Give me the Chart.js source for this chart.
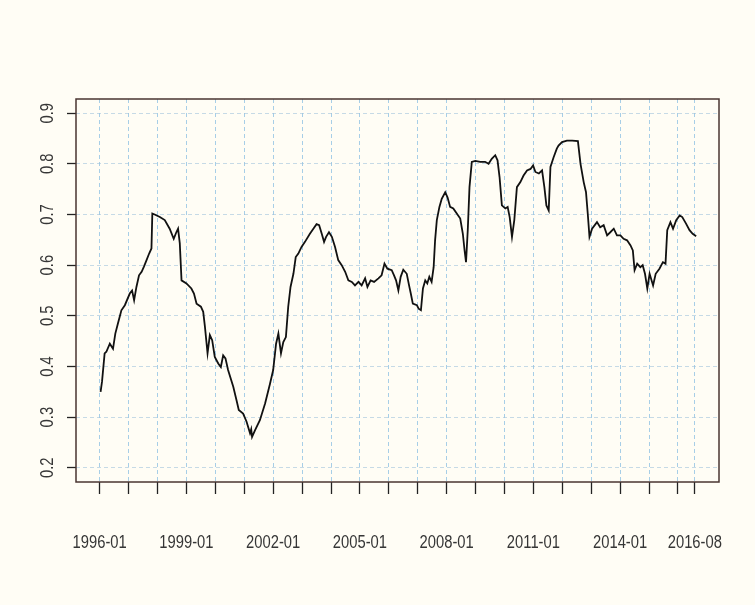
<!DOCTYPE html>
<html>
<head>
<meta charset="utf-8">
<script src="https://cdn.jsdelivr.net/npm/chart.js@4/dist/chart.umd.min.js"></script>
<style>
  html, body { margin: 0; padding: 0; background: #fffdf5; }
  canvas { display: block; }
</style>
</head>
<body>
<canvas id="chart" width="755" height="605"></canvas>
<script>
// decimal year of each reading, and the value
const dates = [
  1996.03, 1996.08, 1996.17, 1996.23, 1996.35, 1996.46, 1996.54, 1996.63, 1996.75, 1996.87,
  1997.04, 1997.12, 1997.19, 1997.27, 1997.36, 1997.45, 1997.53, 1997.62, 1997.71, 1997.79,
  1997.82, 1997.90, 1998.08, 1998.25, 1998.42, 1998.56, 1998.65, 1998.71, 1998.77, 1998.83,
  1999.00, 1999.17, 1999.26, 1999.35, 1999.50, 1999.58, 1999.64, 1999.73, 1999.81, 1999.89,
  1999.98, 2000.10, 2000.19, 2000.27, 2000.35, 2000.44, 2000.62, 2000.73, 2000.81, 2000.96,
  2001.08, 2001.20, 2001.24, 2001.27, 2001.37, 2001.54, 2001.72, 2001.89, 2002.00, 2002.10,
  2002.18, 2002.27, 2002.35, 2002.44, 2002.52, 2002.60, 2002.70, 2002.78, 2002.87, 2002.98,
  2003.10, 2003.27, 2003.39, 2003.50, 2003.59, 2003.68, 2003.76, 2003.83, 2003.93, 2004.03,
  2004.14, 2004.25, 2004.37, 2004.49, 2004.60, 2004.72, 2004.83, 2004.95, 2005.06, 2005.18,
  2005.26, 2005.37, 2005.49, 2005.64, 2005.75, 2005.85, 2005.95, 2006.10, 2006.18, 2006.25,
  2006.33, 2006.41, 2006.50, 2006.62, 2006.70, 2006.76, 2006.83, 2006.97, 2007.03, 2007.11,
  2007.18, 2007.26, 2007.33, 2007.40, 2007.48, 2007.55, 2007.60, 2007.66, 2007.75, 2007.83,
  2007.95, 2008.03, 2008.12, 2008.23, 2008.35, 2008.47, 2008.56, 2008.62, 2008.67, 2008.73,
  2008.79, 2008.87, 2008.99, 2009.16, 2009.33, 2009.45, 2009.56, 2009.68, 2009.76, 2009.83,
  2009.91, 2010.03, 2010.11, 2010.18, 2010.26, 2010.34, 2010.43, 2010.55, 2010.66, 2010.78,
  2010.90, 2010.99, 2011.07, 2011.19, 2011.30, 2011.38, 2011.45, 2011.53, 2011.59, 2011.70,
  2011.81, 2011.87, 2011.99, 2012.16, 2012.34, 2012.54, 2012.63, 2012.74, 2012.82, 2012.88,
  2012.94, 2013.03, 2013.20, 2013.31, 2013.43, 2013.55, 2013.66, 2013.78, 2013.89, 2014.01,
  2014.12, 2014.24, 2014.36, 2014.44, 2014.50, 2014.59, 2014.70, 2014.78, 2014.86, 2014.94,
  2015.02, 2015.14, 2015.23, 2015.36, 2015.48, 2015.57, 2015.63, 2015.74, 2015.83, 2015.94,
  2016.06, 2016.15, 2016.28, 2016.40, 2016.51, 2016.63
];
const values = [
  0.350, 0.370, 0.426, 0.429, 0.445, 0.435, 0.465, 0.485, 0.511, 0.521,
  0.544, 0.550, 0.531, 0.557, 0.580, 0.587, 0.597, 0.610, 0.623, 0.633,
  0.702, 0.700, 0.695, 0.689, 0.672, 0.652, 0.665, 0.672, 0.643, 0.570,
  0.564, 0.554, 0.544, 0.524, 0.518, 0.508, 0.478, 0.426, 0.462, 0.452,
  0.419, 0.406, 0.399, 0.422, 0.416, 0.393, 0.360, 0.334, 0.314, 0.307,
  0.291, 0.268, 0.276, 0.261, 0.274, 0.294, 0.327, 0.366, 0.393, 0.445,
  0.465, 0.426, 0.448, 0.458, 0.518, 0.557, 0.583, 0.616, 0.623, 0.636,
  0.646, 0.662, 0.672, 0.681, 0.679, 0.662, 0.646, 0.656, 0.665, 0.656,
  0.636, 0.610, 0.600, 0.587, 0.570, 0.567, 0.560, 0.567, 0.560, 0.574,
  0.557, 0.570, 0.567, 0.574, 0.580, 0.603, 0.593, 0.590, 0.580, 0.570,
  0.550, 0.577, 0.591, 0.583, 0.560, 0.544, 0.524, 0.521, 0.514, 0.511,
  0.554, 0.570, 0.564, 0.577, 0.567, 0.596, 0.649, 0.689, 0.715, 0.731,
  0.744, 0.734, 0.715, 0.712, 0.702, 0.692, 0.662, 0.629, 0.606, 0.669,
  0.754, 0.804, 0.806, 0.804, 0.804, 0.800, 0.810, 0.817, 0.807, 0.774,
  0.718, 0.712, 0.715, 0.695, 0.656, 0.689, 0.754, 0.764, 0.777, 0.787,
  0.790, 0.797, 0.784, 0.781, 0.787, 0.754, 0.718, 0.708, 0.794, 0.813,
  0.830, 0.836, 0.843, 0.846, 0.846, 0.845, 0.800, 0.764, 0.744, 0.702,
  0.656, 0.672, 0.685, 0.675, 0.679, 0.659, 0.665, 0.672, 0.659, 0.659,
  0.652, 0.649, 0.639, 0.629, 0.590, 0.603, 0.596, 0.600, 0.583, 0.554,
  0.583, 0.560, 0.583, 0.593, 0.606, 0.603, 0.669, 0.685, 0.672, 0.689,
  0.698, 0.695, 0.682, 0.669, 0.662, 0.657
];

// one tick a year, plus the last month; only some are labelled
const xTicks = [
  1996, 1997, 1998, 1999, 2000, 2001, 2002, 2003, 2004, 2005, 2006,
  2007, 2008, 2009, 2010, 2011, 2012, 2013, 2014, 2015, 2016, 2016.583
];
const xTickLabels = [
  '1996-01', '', '', '1999-01', '', '', '2002-01', '', '', '2005-01', '',
  '', '2008-01', '', '', '2011-01', '', '', '2014-01', '', '', '2016-08'
];
const yTicks = [0.2, 0.3, 0.4, 0.5, 0.6, 0.7, 0.8, 0.9];
const yTickLabels = ['0.2', '0.3', '0.4', '0.5', '0.6', '0.7', '0.8', '0.9'];

const FONT = "18px 'Liberation Sans', Arial, sans-serif";
const inkColor = '#363636';

// frame round the plot, and narrow-looking tick labels placed by the scales
const boxPlugin = {
  id: 'box',
  beforeDraw(chart) {
    const ctx = chart.ctx;
    ctx.save();
    ctx.fillStyle = '#fffdf5';
    ctx.fillRect(0, 0, chart.width, chart.height);
    ctx.restore();
  },
  afterDraw(chart) {
    const a = chart.chartArea;
    const ctx = chart.ctx;
    ctx.save();
    ctx.strokeStyle = '#4a3430';
    ctx.lineWidth = 1.5;
    ctx.strokeRect(a.left, a.top, a.right - a.left, a.bottom - a.top);

    ctx.fillStyle = inkColor;
    ctx.font = FONT;
    ctx.textAlign = 'center';
    ctx.textBaseline = 'middle';
    const xs = chart.scales.x;
    xTicks.forEach((v, i) => {
      if (!xTickLabels[i]) return;
      ctx.save();
      ctx.translate(xs.getPixelForValue(v), a.bottom + 61);
      ctx.scale(0.82, 1);
      ctx.fillText(xTickLabels[i], 0, 0);
      ctx.restore();
    });
    const ys = chart.scales.y;
    yTicks.forEach((v, i) => {
      ctx.save();
      ctx.translate(a.left - 28, ys.getPixelForValue(v));
      ctx.rotate(-Math.PI / 2);
      ctx.scale(0.82, 1);
      ctx.fillText(yTickLabels[i], 0, 0);
      ctx.restore();
    });
    ctx.restore();
  }
};

new Chart(document.getElementById('chart'), {
  type: 'line',
  data: {
    datasets: [{
      data: dates.map((d, i) => ({ x: d, y: values[i] })),
      borderColor: '#111111',
      borderWidth: 1.8,
      pointRadius: 0,
      tension: 0,
      fill: false
    }]
  },
  options: {
    responsive: false,
    animation: false,
    layout: { padding: { top: 99, right: 36, bottom: 0, left: 0 } },
    plugins: { legend: { display: false }, tooltip: { enabled: false } },
    scales: {
      x: {
        type: 'linear',
        min: 1995.18,
        max: 2017.42,
        afterBuildTicks(scale) { scale.ticks = xTicks.map(v => ({ value: v })); },
        afterFit(scale) { scale.height = 123; },
        border: { display: false, dash: [4, 3] },
        grid: {
          color: 'rgba(130, 185, 225, 0.7)',
          tickColor: '#222',
          tickBorderDash: [],
          tickWidth: 1.3,
          tickLength: 12
        },
        ticks: { display: false }
      },
      y: {
        min: 0.172,
        max: 0.928,
        afterBuildTicks(scale) { scale.ticks = yTicks.map(v => ({ value: v })); },
        afterFit(scale) { scale.width = 76; },
        border: { display: false, dash: [4, 3] },
        grid: {
          color: 'rgba(160, 195, 220, 0.6)',
          tickColor: '#222',
          tickBorderDash: [],
          tickWidth: 1.3,
          tickLength: 9
        },
        ticks: { display: false }
      }
    }
  },
  plugins: [boxPlugin]
});
</script>
</body>
</html>
